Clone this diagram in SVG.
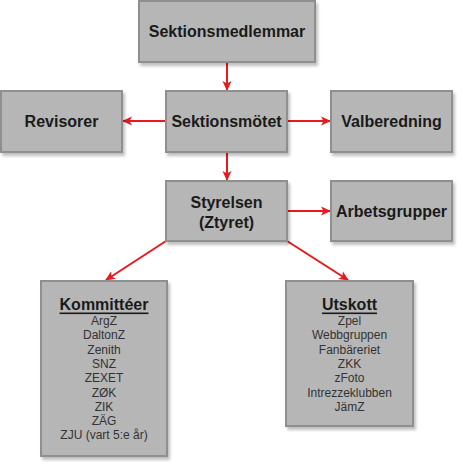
<svg xmlns="http://www.w3.org/2000/svg" width="463" height="468" viewBox="0 0 463 468">
<defs>
<filter id="sh" x="-10%" y="-10%" width="130%" height="130%">
<feDropShadow dx="2" dy="3" stdDeviation="1.5" flood-color="#000" flood-opacity="0.25"/>
</filter>
<marker id="ah" markerWidth="10" markerHeight="10" refX="9" refY="5" orient="auto" markerUnits="userSpaceOnUse">
<path d="M0,0.5 L10,5 L0,9.5 L2.5,5 Z" fill="#e8191f"/>
</marker>
<style>
.box{fill:#b6b6b6;stroke:#8f8f8f;stroke-width:2;filter:url(#sh)}
.t{font-family:"Liberation Sans",Arial,sans-serif;font-size:16px;font-weight:bold;fill:#1a1a1a;text-anchor:middle;dominant-baseline:central}
.h{font-family:"Liberation Sans",Arial,sans-serif;font-size:16px;font-weight:bold;fill:#1a1a1a;text-anchor:middle;text-decoration:underline;dominant-baseline:central}
.l{font-family:"Liberation Sans",Arial,sans-serif;font-size:12px;fill:#333;text-anchor:middle;dominant-baseline:central}
.c{stroke:#e8191f;stroke-width:2;fill:none;marker-end:url(#ah)}
</style>
</defs>
<g id="connectors">
<line class="c" x1="227" y1="62" x2="227" y2="90"/>
<line class="c" x1="166" y1="121" x2="123" y2="121"/>
<line class="c" x1="287" y1="121" x2="330" y2="121"/>
<line class="c" x1="227" y1="152" x2="227" y2="180"/>
<line class="c" x1="287" y1="211" x2="330" y2="211"/>
<line class="c" x1="166" y1="241" x2="106" y2="280"/>
<line class="c" x1="287" y1="241" x2="348" y2="280"/>
</g>
<g id="sektionsmedlemmar">
<rect class="box" x="139" y="1" width="176" height="61"/>
<text class="t" x="227" y="31.5">Sektionsmedlemmar</text>
</g>
<g id="sektionsmotet">
<rect class="box" x="166" y="91" width="121" height="61"/>
<text class="t" x="226.5" y="121.5">Sektionsmötet</text>
</g>
<g id="revisorer">
<rect class="box" x="1" y="91" width="121" height="61"/>
<text class="t" x="61.5" y="121.5">Revisorer</text>
</g>
<g id="valberedning">
<rect class="box" x="331" y="91" width="121" height="61"/>
<text class="t" x="391.5" y="121.5">Valberedning</text>
</g>
<g id="styrelsen">
<rect class="box" x="166" y="181" width="121" height="60"/>
<text class="t" x="226.5" y="202">Styrelsen</text>
<text class="t" x="226.5" y="222">(Ztyret)</text>
</g>
<g id="arbetsgrupper">
<rect class="box" x="331" y="181" width="121" height="60"/>
<text class="t" x="391.5" y="211">Arbetsgrupper</text>
</g>
<g id="kommitteer">
<rect class="box" x="41" y="281" width="126" height="175"/>
<text class="h" x="104" y="304">Kommittéer</text>
<text class="l" x="104" y="321">ArgZ</text>
<text class="l" x="104" y="335.3">DaltonZ</text>
<text class="l" x="104" y="349.6">Zenith</text>
<text class="l" x="104" y="363.9">SNZ</text>
<text class="l" x="104" y="378.2">ZEXET</text>
<text class="l" x="104" y="392.5">ZØK</text>
<text class="l" x="104" y="406.8">ZIK</text>
<text class="l" x="104" y="421.1">ZÄG</text>
<text class="l" x="104" y="435.4">ZJU (vart 5:e år)</text>
</g>
<g id="utskott">
<rect class="box" x="286" y="281" width="127" height="145"/>
<text class="h" x="349.5" y="304">Utskott</text>
<text class="l" x="349.5" y="321">Zpel</text>
<text class="l" x="349.5" y="335.3">Webbgruppen</text>
<text class="l" x="349.5" y="349.6">Fanbäreriet</text>
<text class="l" x="349.5" y="363.9">ZKK</text>
<text class="l" x="349.5" y="378.2">zFoto</text>
<text class="l" x="349.5" y="392.5">Intrezzeklubben</text>
<text class="l" x="349.5" y="406.8">JämZ</text>
</g>
</svg>
